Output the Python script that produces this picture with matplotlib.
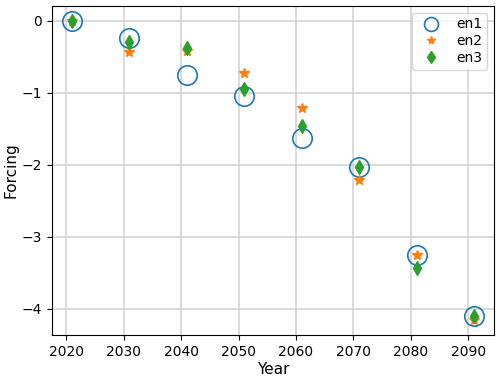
import matplotlib.pyplot as plt
import numpy as np

years = [2021, 2031, 2041, 2051, 2061, 2071, 2081, 2091]
en1 = [0.0, -0.24, -0.75, -1.05, -1.63, -2.03, -3.25, -4.10]
en2 = [0.0, -0.44, -0.42, -0.72, -1.21, -2.21, -3.25, -4.16]
en3 = [0.0, -0.29, -0.38, -0.95, -1.46, -2.03, -3.43, -4.10]

fig = plt.figure(figsize=(5, 3.78), dpi=100)
ax = fig.add_axes([0.104, 0.113, 0.884, 0.872])
ax.plot(years, en1, 'o', mfc='none', ms=14, mew=1.2, label='en1')
ax.plot(years, en2, '*', ms=7, label='en2')
ax.plot(years, en3, 'd', ms=7, label='en3')
ax.grid(True, color='#d3d3d3', lw=1.2)
ax.set_axisbelow(True)
ax.set_xlabel('Year', fontsize=11, labelpad=2)
ax.set_ylabel('Forcing', fontsize=11, labelpad=2)
leg = ax.legend(fontsize=10, labelspacing=0.2, borderpad=0.35)
# legend markers are drawn smaller than in the plot
leg.legend_handles[0].set_markersize(10)
leg.legend_handles[1].set_markersize(6)
leg.legend_handles[2].set_markersize(6)
fig.savefig('out.png')
